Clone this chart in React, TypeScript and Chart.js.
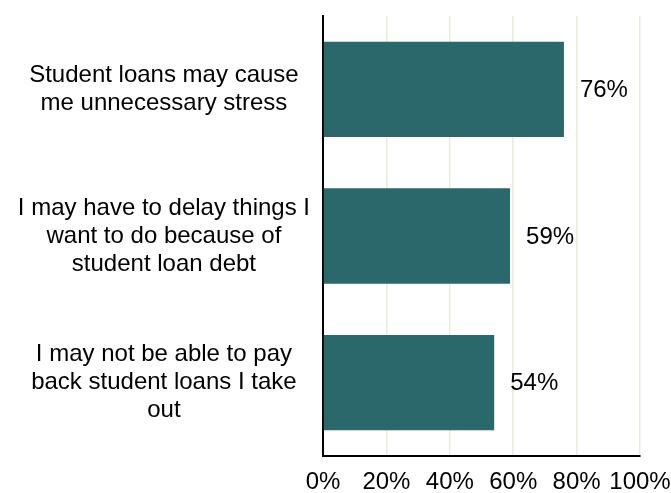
import React, { useEffect, useRef } from "react";
import { Chart, registerables } from "chart.js";

Chart.register(...registerables);

const categories: string[][] = [
  ["Student loans may cause", "me unnecessary stress"],
  ["I may have to delay things I", "want to do because of", "student loan debt"],
  ["I may not be able to pay", "back student loans I take", "out"],
];
const values: number[] = [76, 59, 54];
const tickValues: number[] = [0, 20, 40, 60, 80, 100];

const FONT = "'Liberation Sans', Arial, sans-serif";
const BAR_COLOR = "#2a686c";

const valueLabelPlugin = {
  id: "valueLabels",
  afterDatasetsDraw(chart: any) {
    const ctx = chart.ctx;
    const meta = chart.getDatasetMeta(0);
    ctx.save();
    ctx.font = `24px ${FONT}`;
    ctx.fillStyle = "#000";
    ctx.textAlign = "left";
    ctx.textBaseline = "middle";
    meta.data.forEach((bar: any, i: number) => {
      ctx.fillText(`${values[i]}%`, bar.x + 16, bar.y + 1);
    });
    ctx.restore();
  },
};

export default function App() {
  const ref = useRef<HTMLCanvasElement>(null);
  useEffect(() => {
    if (!ref.current) return;
    const chart = new Chart(ref.current, {
      type: "bar",
      data: {
        labels: categories,
        datasets: [
          {
            data: values,
            backgroundColor: BAR_COLOR,
            borderWidth: 0,
            categoryPercentage: 1,
            barPercentage: 0.65,
          },
        ],
      },
      options: {
        indexAxis: "y",
        responsive: false,
        animation: false,
        layout: { padding: { top: 16, right: 31, left: 0, bottom: 0 } },
        plugins: { legend: { display: false }, tooltip: { enabled: false } },
        scales: {
          x: {
            min: 0,
            max: 100,
            afterBuildTicks: (scale: any) => {
              scale.ticks = tickValues.map((v) => ({ value: v }));
            },
            afterFit: (scale: any) => {
              scale.height = 37;
              scale.paddingLeft = 0;
              scale.paddingRight = 0;
            },
            ticks: {
              color: "#000",
              font: { family: FONT, size: 24 },
              padding: 12,
              maxRotation: 0,
              minRotation: 0,
              autoSkip: false,
              callback: (v: any) => `${v}%`,
            },
            grid: {
              color: "#ebebdc",
              lineWidth: 1.5,
              drawTicks: false,
            },
            border: { display: true, color: "#000", width: 2 },
          },
          y: {
            afterFit: (scale: any) => {
              scale.width = 323;
              scale.paddingTop = 0;
              scale.paddingBottom = 0;
            },
            ticks: {
              color: "#000",
              font: { family: FONT, size: 24, lineHeight: 1.17 },
              crossAlign: "center",
              padding: 13,
              autoSkip: false,
            },
            grid: { display: false, drawTicks: false },
            border: { display: true, color: "#000", width: 2 },
          },
        },
      },
      plugins: [valueLabelPlugin],
    } as any);
    return () => chart.destroy();
  }, []);
  return (
    <div style={{ position: "fixed", left: 0, top: 0, width: 671, height: 493, background: "#fff" }}>
      <canvas ref={ref} width={671} height={493} style={{ display: "block" }} />
    </div>
  );
}
